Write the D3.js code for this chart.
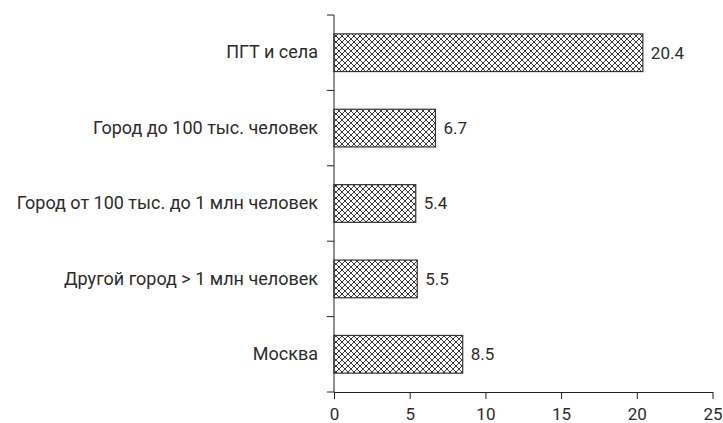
<!DOCTYPE html>
<html>
<head>
<meta charset="utf-8">
<script src="https://cdn.jsdelivr.net/npm/d3@7.9.0/dist/d3.min.js"></script>
<style>
  body { margin: 0; background: #fff; }
  svg text { font-family: Roboto, "Noto Sans", sans-serif; fill: #2b2b2b; }
</style>
</head>
<body>
<div id="chart"></div>
<script>
// --- Data ---
const categories = [
  "ПГТ и села",
  "Город до 100 тыс. человек",
  "Город от 100 тыс. до 1 млн человек",
  "Другой город > 1 млн человек",
  "Москва"
];
const values = [20.4, 6.7, 5.4, 5.5, 8.5];
const xTicks = [0, 5, 10, 15, 20, 25];

// --- Setup ---
const W = 723;
const H = 423;
const M = { top: 15, right: 10.5, bottom: 31, left: 334 };
const LABEL_FS = 18; // category labels
const NUM_FS = 17; // numbers

const x = d3.scaleLinear().domain([0, 25]).range([M.left, W - M.right]);
const y = d3
  .scaleBand()
  .domain(categories)
  .range([M.top, H - M.bottom])
  .paddingInner(0.5)
  .paddingOuter(0.25);

const svg = d3.select("#chart").append("svg").attr("width", W).attr("height", H);

// crosshatch fill
const pat = svg
  .append("defs")
  .append("pattern")
  .attr("id", "hatch")
  .attr("patternUnits", "userSpaceOnUse")
  .attr("width", 6)
  .attr("height", 6);
pat.append("rect").attr("width", 6).attr("height", 6).attr("fill", "#fff");
pat
  .append("path")
  .attr("d", "M0,0L6,6M6,0L0,6M-1,5L1,7M5,-1L7,1M-1,1L1,-1M5,7L7,5")
  .attr("stroke", "#3a3a3a")
  .attr("stroke-width", 1);

// bars
svg
  .append("g")
  .selectAll("rect")
  .data(values)
  .join("rect")
  .attr("x", x(0))
  .attr("y", (d, i) => y(categories[i]))
  .attr("width", (d) => x(d) - x(0))
  .attr("height", y.bandwidth())
  .attr("fill", "url(#hatch)")
  .attr("stroke", "#333")
  .attr("stroke-width", 1.2);

// value labels
svg
  .append("g")
  .selectAll("text")
  .data(values)
  .join("text")
  .attr("x", (d) => x(d) + 8)
  .attr("y", (d, i) => y(categories[i]) + y.bandwidth() / 2)
  .attr("dy", "0.35em")
  .attr("font-size", NUM_FS)
  .text((d) => d.toFixed(1));

// y axis: labels at band centres, ticks at band boundaries
const yAxis = svg
  .append("g")
  .attr("transform", `translate(${M.left},0)`)
  .call(d3.axisLeft(y).tickSize(0).tickPadding(16));
yAxis.select(".domain").remove();
yAxis.selectAll("text").attr("font-size", LABEL_FS).attr("fill", "#2b2b2b");

const bounds = categories.map((c) => y(c) - (y.step() * y.paddingInner()) / 2);
bounds.push(H - M.bottom);
svg
  .append("g")
  .selectAll("line")
  .data(bounds)
  .join("line")
  .attr("x1", M.left - 7)
  .attr("x2", M.left)
  .attr("y1", (d) => d)
  .attr("y2", (d) => d)
  .attr("stroke", "#222");
svg
  .append("line")
  .attr("x1", M.left)
  .attr("x2", M.left)
  .attr("y1", M.top)
  .attr("y2", H - M.bottom)
  .attr("stroke", "#222");

// x axis
const xAxis = svg
  .append("g")
  .attr("transform", `translate(0,${H - M.bottom})`)
  .call(d3.axisBottom(x).tickValues(xTicks).tickSize(7).tickSizeOuter(0).tickPadding(9));
xAxis.select(".domain").attr("stroke", "#222");
xAxis.selectAll(".tick line").attr("stroke", "#222");
xAxis.selectAll("text").attr("font-size", NUM_FS).attr("fill", "#2b2b2b");
</script>
</body>
</html>
